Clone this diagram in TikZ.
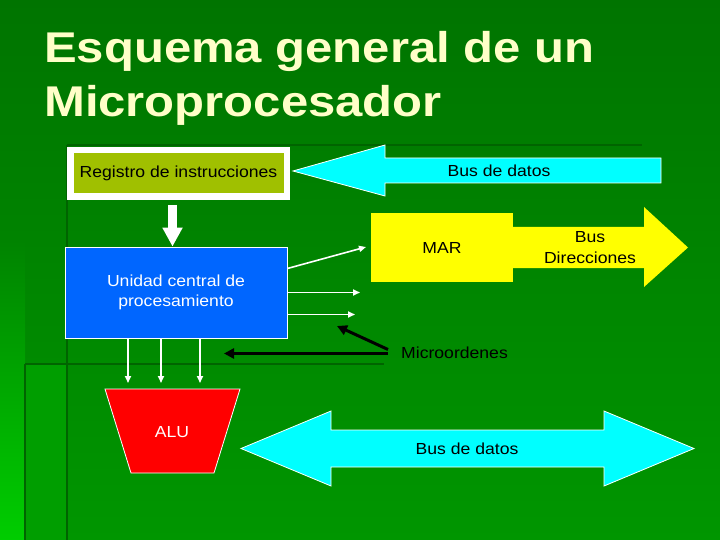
\documentclass[tikz,border=0pt]{standalone}
\usepackage{fontspec}
\setmainfont{Liberation Sans}[FakeStretch=1.1]
\newfontfamily\titlefont{Liberation Sans}[FakeStretch=1.14]
\usetikzlibrary{positioning}
\usetikzlibrary{arrows.meta}

\definecolor{bgtop}{RGB}{0,116,0}
\definecolor{bgbot}{RGB}{0,150,0}
\definecolor{bgstrip}{RGB}{0,131,0}
\definecolor{bglight}{RGB}{0,205,0}
\definecolor{bgpanel}{RGB}{0,158,0}
\definecolor{bgline}{RGB}{0,100,0}
\definecolor{titleyellow}{RGB}{255,255,200}
\definecolor{regolive}{RGB}{160,192,0}
\definecolor{cpublue}{RGB}{0,102,255}
\definecolor{buscyan}{RGB}{0,255,255}
\definecolor{maryellow}{RGB}{255,255,0}
\definecolor{alured}{RGB}{255,0,0}

\begin{document}
\begin{tikzpicture}[x=1pt, y=-1pt,
    every node/.style={font=\fontsize{16}{20.5}\selectfont, inner sep=0pt, align=center},
    titletext/.style={font=\titlefont\bfseries\fontsize{43}{50}\selectfont, text=titleyellow, anchor=base west},
    bus/.style={fill=buscyan, draw=white, line width=0.8pt},
    wire/.style={draw=white, line width=1.6pt, -{Triangle[length=7pt,width=6pt]}},
    order/.style={draw=black, line width=3pt, -{Triangle[length=10pt,width=10pt]}},
    bigdown/.style={draw=white, line width=9pt, -{Triangle[length=19pt,width=19pt]}}
  ]
  \useasboundingbox (0,0) rectangle (720,540);

  % background of the slide
  \shade[top color=bgtop, bottom color=bgbot] (0,0) rectangle (720,540);
  \shade[top color=bgstrip, bottom color=bglight] (0,240) rectangle (25,540);
  \fill[bgpanel] (25,364) rectangle (67,540);
  \draw[bgline, line width=2pt] (67,145) -- (642,145);
  \draw[bgline, line width=2pt] (67,145) -- (67,540);
  \draw[bgline, line width=2pt] (25,364) -- (384,364);
  \draw[bgline, line width=2pt] (25,364) -- (25,540);

  \node[titletext] (title1) at (44,63) {Esquema general de un};
  \node[titletext] (title2) at (44,117) {Microprocesador};

  % boxes
  \node[fill=regolive, draw=white, line width=6.5pt, minimum width=216.5pt, minimum height=46.5pt] (reg) at (178.5,173.5) {Registro de instrucciones};
  \node[fill=cpublue, draw=white, line width=0.8pt, minimum width=222pt, minimum height=91pt, text=white] (cpu) at (176,292.5) {Unidad central de\\procesamiento};
  \node[fill=maryellow, minimum width=142pt, minimum height=69pt] (mar) at (442,247.5) {MAR};

  % buses
  \draw[bus] (293,171) -- (385,145) -- (385,158) -- (661,158) -- (661,183) -- (385,183) -- (385,196) -- cycle;
  \node (busup) at (499,171) {Bus de datos};
  \fill[maryellow] (512,227) -- (644,227) -- (644,207) -- (688,247.5) -- (644,287) -- (644,268) -- (512,268) -- cycle;
  \node (busdir) at (590,247.5) {Bus\\Direcciones};
  \draw[bus] (241,448.5) -- (331,411) -- (331,430) -- (604,430) -- (604,411) -- (694,448.5) -- (604,486) -- (604,467) -- (331,467) -- (331,486) -- cycle;
  \node (busdn) at (467,448.5) {Bus de datos};

  % ALU
  \draw[fill=alured, draw=white, line width=0.8pt] (105,389) -- (240,389) -- (214,473) -- (131,473) -- cycle;
  \node[text=white] (alu) at (172,432) {ALU};

  \node[anchor=west] (micro) at (401,352.5) {Microordenes};

  \coordinate (w1) at (366,247);
  \coordinate (w2) at (360,292.5);
  \coordinate (w3) at (355,314.5);
  \coordinate (a1) at (128,383);
  \coordinate (a2) at (161,383);
  \coordinate (a3) at (200,383);
  \coordinate (m1) at (337,326);
  \coordinate (m2) at (224,353.5);

  \draw[bigdown] ([xshift=-6pt,yshift=-5pt]reg.south) -- ([xshift=-3.5pt]cpu.north);
  \draw[wire] ([yshift=24pt]cpu.east) -- (w1);
  \draw[wire] (cpu.east) -- (w2);
  \draw[wire] ([yshift=-22pt]cpu.east) -- (w3);
  \draw[wire] (cpu.south -| a1) -- (a1);
  \draw[wire] (cpu.south -| a2) -- (a2);
  \draw[wire] (cpu.south -| a3) -- (a3);
  \draw[order] ([xshift=-13pt,yshift=3pt]micro.west) -- (m1);
  \draw[order] ([xshift=-13pt,yshift=-1pt]micro.west) -- (m2);
\end{tikzpicture}
\end{document}
